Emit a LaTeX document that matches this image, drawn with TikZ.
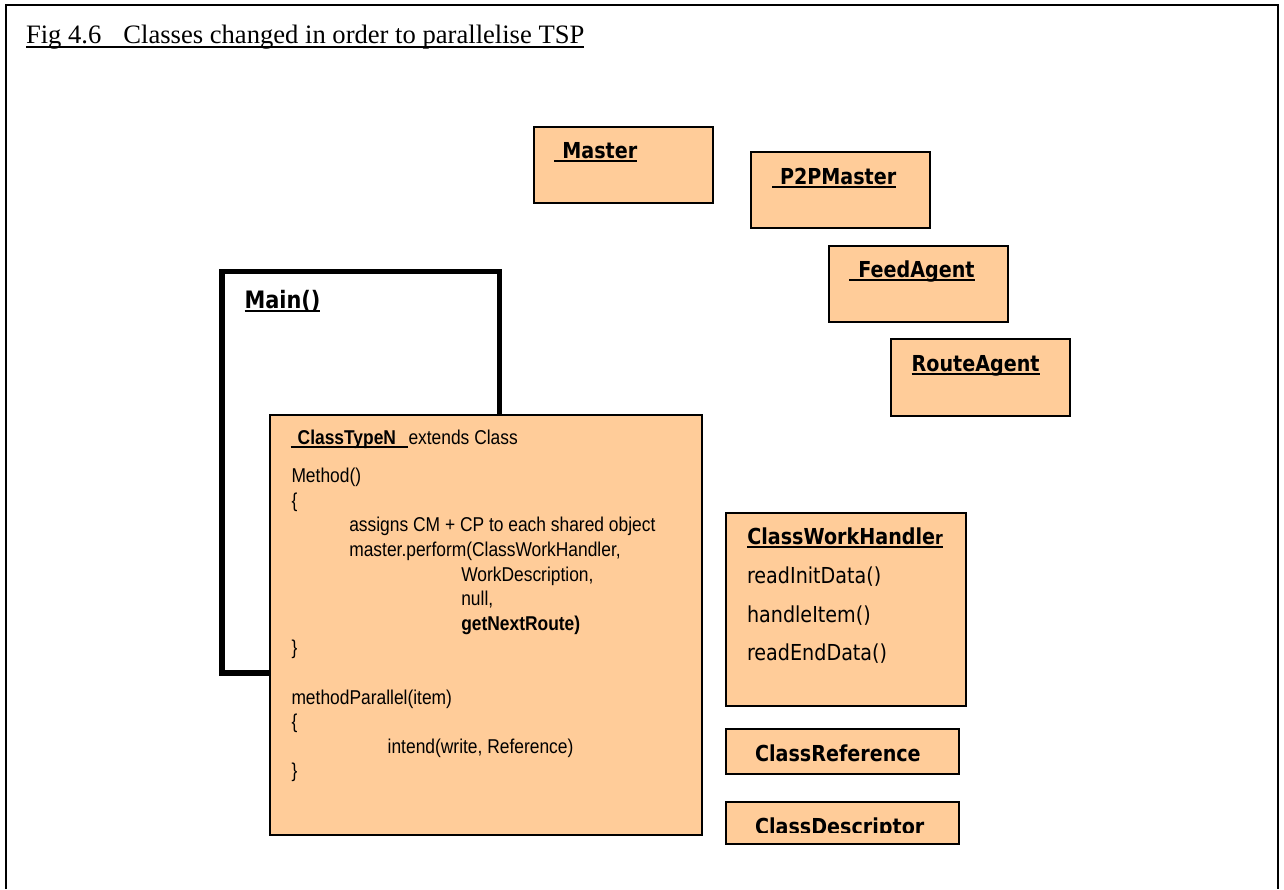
\documentclass[tikz,border=0pt]{standalone}
\usepackage{fontspec}
\setmainfont{Liberation Serif}
\newfontfamily\tahoma[FakeStretch=0.87]{DejaVu Sans}
\newfontfamily\narrow[FakeStretch=0.87]{Liberation Sans}
\definecolor{boxfill}{RGB}{255,204,153}
% underline drawn as a rule just under the baseline
\newcommand{\ulbox}[1]{\setbox0\hbox{#1}\rlap{\rule[-3.6pt]{\wd0}{2pt}}\box0}
\newcommand{\ultitle}[1]{\setbox0\hbox{#1}\rlap{\rule[-4.6pt]{\wd0}{1.4pt}}\box0}
\begin{document}
\begin{tikzpicture}[x=1pt,y=-1pt,
  classbox/.style={draw=black, line width=2pt, fill=boxfill, inner sep=0pt,
    outer sep=0pt, anchor=north west},
  mainbox/.style={draw=black, line width=5.5pt, fill=white, inner sep=0pt,
    outer sep=0pt, anchor=north west},
  txt/.style={anchor=base west, inner sep=0pt, outer sep=0pt},
  head/.style={txt, font=\tahoma\bfseries\fontsize{22pt}{26pt}\selectfont},
  meth/.style={txt, font=\tahoma\fontsize{22pt}{26pt}\selectfont},
  code/.style={txt, font=\narrow\fontsize{20pt}{24pt}\selectfont},
  codeb/.style={txt, font=\narrow\bfseries\fontsize{20pt}{24pt}\selectfont}]
\useasboundingbox (0,0) rectangle (1284,889);

% outer frame (open at the bottom)
\draw[line width=2pt] (6,889) -- (6,5) -- (1278,5) -- (1278,889);

% caption
\node[txt, font=\fontsize{26.6pt}{30pt}\selectfont] (caption) at (26,43)
  {\ultitle{Fig 4.6\hspace{22pt}Classes changed in order to parallelise TSP}};

% agent classes
\node[classbox, minimum width=178.5, minimum height=76] (master) at (534,127) {};
\node[head] (masterT) at (554.3,158.7) {\ulbox{\hspace*{8pt}Master}};

\node[classbox, minimum width=179, minimum height=76] (p2p) at (751,152) {};
\node[head] (p2pT) at (772.3,184.7) {\ulbox{\hspace*{7.7pt}P2PMaster}};

\node[classbox, minimum width=179, minimum height=76] (feed) at (828.5,245.7) {};
\node[head] (feedT) at (849.3,277.7) {\ulbox{\hspace*{9pt}FeedAgent}};

\node[classbox, minimum width=179.5, minimum height=77.5] (route) at (890.5,338.5) {};
\node[head] (routeT) at (911.7,371) {\ulbox{RouteAgent}};

% Main() frame
\node[mainbox, minimum width=277.5, minimum height=401.5] (main) at (222,271.5) {};
\node[txt, font=\tahoma\bfseries\fontsize{24pt}{28pt}\selectfont] (mainT) at (244.5,308.3)
  {\ulbox{Main()}};

% ClassTypeN
\node[classbox, minimum width=431.7, minimum height=420] (ctn) at (270,415) {};
\node[codeb] (ctnT) at (290.7,444.3) {\ulbox{\hspace*{7pt}ClassTypeN\hspace*{11.5pt}}};
\node[code] (ctnX) at (408.5,444.3) {extends Class};
\node[code] (c1) at (291.5,482.7) {Method()};
\node[code] (c2) at (291.5,507.3) {\{};
\node[code] (c3) at (349.3,531.9) {assigns CM + CP to each shared object};
\node[code] (c4) at (349.3,556.5) {master.perform(ClassWorkHandler,};
\node[code] (c5) at (461.3,581.1) {WorkDescription,};
\node[code] (c6) at (461.3,605.7) {null,};
\node[codeb] (c7) at (461.3,630.3) {getNextRoute)};
\node[code] (c8) at (291.5,654.9) {\}};
\node[code] (c9) at (291.5,704.1) {methodParallel(item)};
\node[code] (c10) at (291.5,728.7) {\{};
\node[code] (c11) at (387.7,753.3) {intend(write, Reference)};
\node[code] (c12) at (291.5,777.9) {\}};

% ClassWorkHandler
\node[classbox, minimum width=240, minimum height=193] (cwh) at (726,513) {};
\node[head] (cwhT) at (747.3,544.3)
  {\ulbox{ClassWorkHandle{\fontsize{18pt}{20pt}\selectfont r}}};
\node[meth] (m1) at (747,583.3) {readInitData()};
\node[meth] (m2) at (747,622.7) {handleItem()};
\node[meth] (m3) at (747,660.7) {readEndData()};

% ClassReference
\node[classbox, minimum width=233, minimum height=45] (cref) at (726,729) {};
\node[head] (crefT) at (755,761) {ClassReference};

% ClassDescriptor (label cut off by the box)
\node[classbox, minimum width=233, minimum height=42] (cdesc) at (726,802) {};
\begin{scope}
  \clip (727,803) rectangle (958,832);
  \node[head] (cdescT) at (755,834) {ClassDescriptor};
\end{scope}
\end{tikzpicture}
\end{document}
